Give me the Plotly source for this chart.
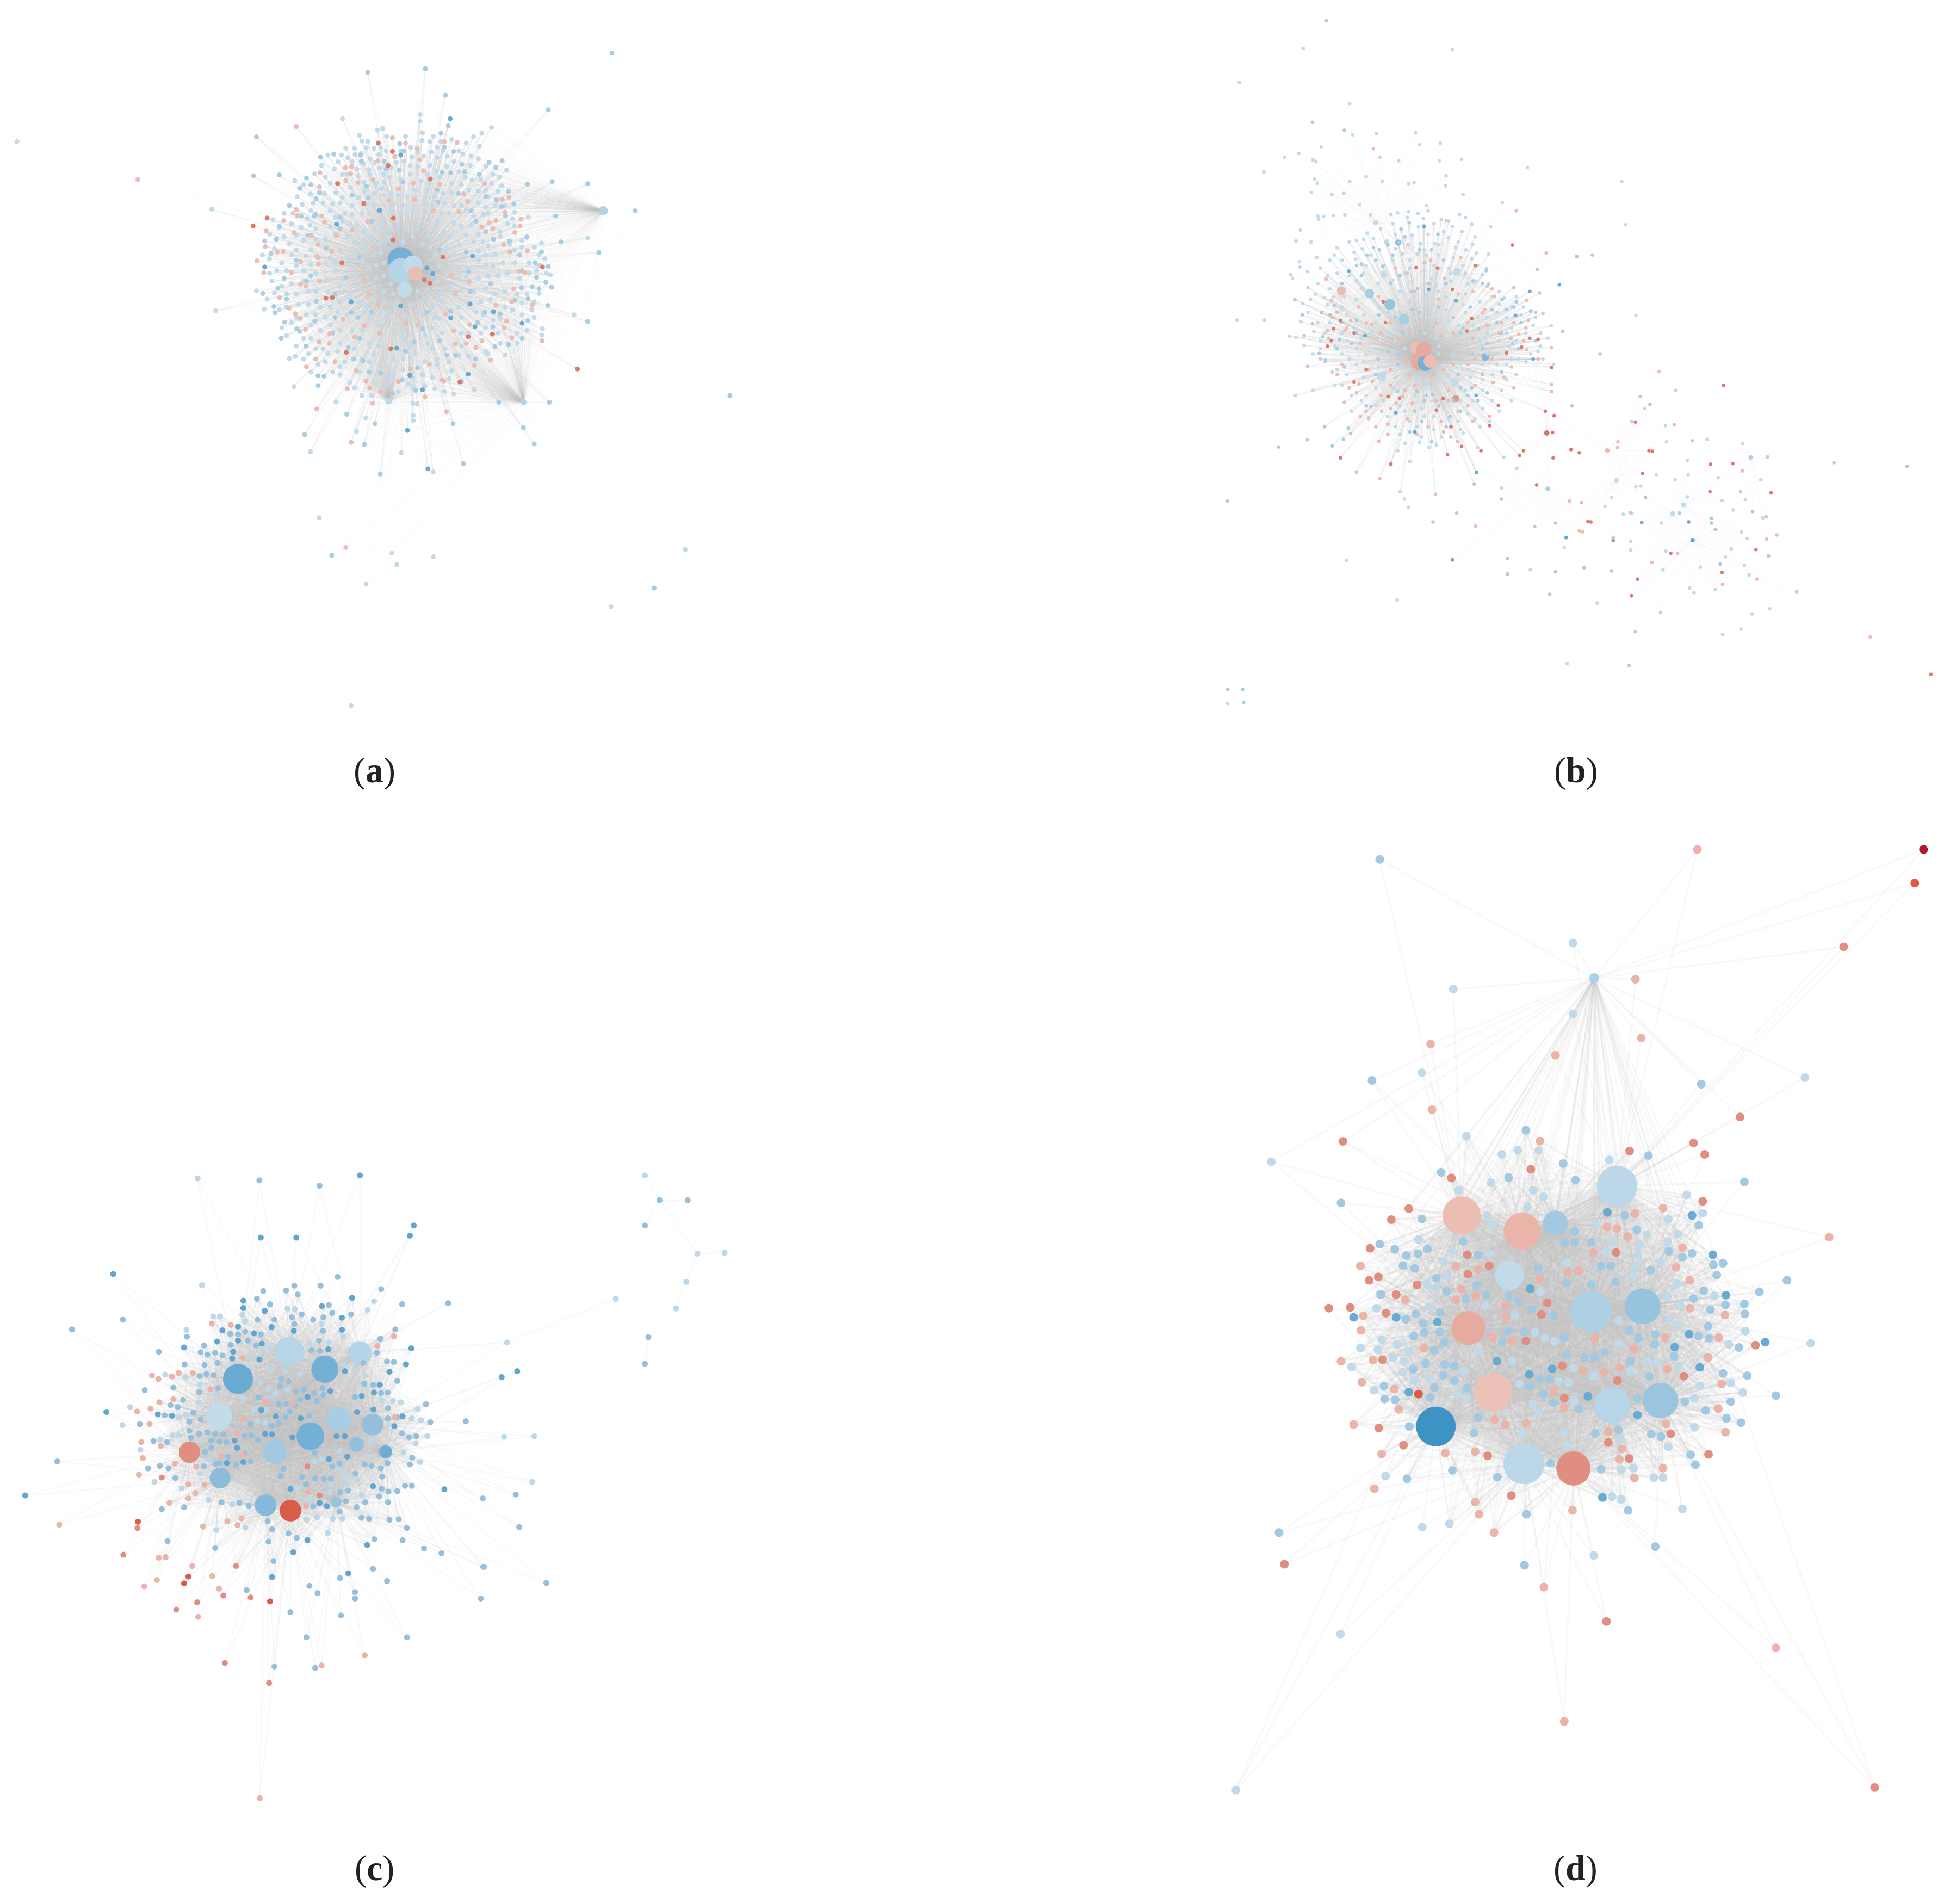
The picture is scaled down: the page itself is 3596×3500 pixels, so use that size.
import math
import plotly.graph_objects as go

# panel a
a_hub_x = [825, 825, 850, 855, 833, 1242, 800, 1078]
a_hub_y = [500, 520, 510, 525, 557, 405, 771, 773]
a_hub_size = [48, 46, 36, 26, 28, 17, 12, 11]
a_hub_tone = [3.5, 1.5, 1, -1, 1, 1.6, 1.2, 1.5]

a_light = [(35,272),(436,402),(444,597),(723,1356),(754,1122),(817,1085),(807,1063),(892,1070),(657,995),(639,868),(826,870),(892,907),
(734,829),(753,803),(1411,1056),(1258,1166),(977,749),(1210,457),(865,220),(865,233),(705,228),(1182,605),(605,743),(692,772),(851,798),(851,808),
(777,250),(788,247),(740,260),(745,271),(870,255),(869,270),(885,272),(960,275),(992,256),(1012,245),(730,285),(754,284),(770,285),(784,284),(846,283),
(900,283),(945,290),(987,281),(703,298),(716,303),(731,297),(762,305),(780,297),(848,302),(872,300),(900,303),(921,300),(953,296),(696,311),(688,325),
(715,335),(748,315),(760,326),(782,323),(816,312),(845,318),(885,318),(945,330),(968,318),(1000,320),(1043,327),(648,334),(680,352),(696,352),(737,338),
(762,335),(775,352),(802,340),(845,335),(867,348),(905,340),(930,352),(972,346),(1033,357),(639,373),(691,370),(722,360),(750,368),(785,362),(820,375),
(838,378),(880,365),(912,372),(985,367),(1012,352),(607,347),(665,390),(700,390),(725,395),(770,395),(790,375),(830,395),(875,390),(915,390),(950,395),
(985,390),(1020,395),(1060,408),(595,395),(622,393),(640,405),(680,405),(710,410),(745,410),(790,420),(825,410),(860,420),(900,425),(925,410),(975,415),
(1005,410),(1088,417),(562,422),(575,438),(620,437),(650,440),(705,425),(735,432),(770,440),(800,440),(840,440),(880,440),(915,445),(950,435),(985,450),
(1045,430),(570,458),(595,468),(625,462),(670,460),(715,455),(750,460),(785,465),(830,465),(870,470),(905,458),(945,470),(975,465),(1005,472),(1030,455),
(1085,455),(1115,467),(555,497),(580,505),(610,480),(640,480),(700,480),(735,485),(770,490),(895,490),(935,490),(1000,490),(1060,480),(1100,475),(1122,497),
(590,520),(625,520),(670,505),(725,510),(760,515),(790,505),(930,510),(960,515),(1000,510),(1035,505),(1090,505),(1133,528),(560,540),(600,545),(650,525),
(690,520),(735,530),(775,535),(805,545),(900,540),(945,535),(985,535),(1025,530),(1070,535),(1105,520),(528,559),(565,563),(610,565),(650,560),(700,550),
(740,555),(790,560),(860,560),(905,565),(950,555),(1000,555),(1040,560),(1085,565),(1110,564),(544,594),(590,590),(635,585),(680,590),(755,590),(790,582),
(850,585),(890,590),(945,590),(990,580),(1040,590),(1075,582),(610,610),(650,605),(695,600),(760,610),(800,605),(870,605),(905,612),(995,605),(1030,612),
(1117,632),(1116,644),(580,630),(640,625),(680,625),(725,635),(800,625),(890,630),(950,640),(1000,630),(1065,640),(640,650),(665,670),(700,660),(760,660),
(830,650),(880,660),(915,670),(1000,675),(1040,682),(1065,660),(596,689),(608,685),(635,680),(675,680),(745,690),(770,680),(810,690),(855,680),(900,690),
(945,682),(655,700),(700,705),(720,735),(780,715),(830,710),(870,720),(900,700),(930,712),(685,715),(795,740),(820,752),(850,745),(895,747),(934,757),(850,775),(859,776)]

a_light_more = [(757,272),(796,262),(825,290),(835,262),(892,262),(908,272),(930,268),(975,263),(712,285),(744,295),(795,290),(860,293),(888,292),(912,290),(970,300),(675,298),(725,310),(772,312),(805,322),(832,310),
(860,320),(898,328),(935,310),(985,305),(1015,335),(662,318),(705,335),(735,325),(790,335),(825,345),(880,335),(920,320),(958,340),(990,345),(670,340),(750,350),(790,350),(885,352),(950,355),(1000,365),(1028,340),
(625,355),(668,372),(705,380),(738,380),(770,372),(805,372),(855,365),(895,378),(930,370),(965,365),(1005,378),(1025,368),(612,378),(645,390),(685,392),(755,392),(810,392),(850,402),(890,395),(935,395),(1000,398),
(1040,395),(603,410),(632,420),(690,418),(725,412),(760,410),(805,405),(875,410),(910,410),(960,402),(995,412),(1055,420),(585,410),(600,430),(638,433),(680,435),(720,430),(750,445),(785,440),(820,432),(860,440),
(895,440),(935,428),(970,433),(1030,445),(1060,435),(555,450),(585,455),(610,452),(650,460),(690,450),(730,465),(765,455),(800,455),(850,455),(885,455),(925,455),(960,452),(995,465),(1050,470),(1075,462),(540,490),
(565,478),(600,490),(630,492),(680,495),(715,495),(755,480),(785,485),(885,475),(920,478),(955,495),(985,482),(1020,490),(1075,475),(1110,490),(570,520),(610,510),(640,508),(690,505),(745,500),(775,510),(905,510),
(945,515),(985,500),(1015,512),(1060,505),(1110,510),(555,525),(580,550),(625,540),(670,540),(710,535),(755,535),(790,530),(920,525),(960,532),(1005,530),(1045,525),(1090,525),(1125,525),(550,575),(590,565),(635,560),
(675,560),(720,565),(770,550),(810,565),(880,555),(925,550),(975,560),(1020,565),(1065,565),(1100,580),(575,595),(615,585),(660,590),(700,580),(740,580),(770,575),(815,585),(870,578),(910,580),(965,585),(1010,575),(1055,595),
(1095,595),(600,620),(630,605),(670,610),(715,605),(750,600),(785,600),(835,605),(895,610),(950,610),(980,600),(1015,615),(1075,605),(1100,610),(590,645),(625,650),(660,635),(700,635),(745,635),(780,625),(825,635),(875,645),
(910,640),(965,640),(1025,640),(1085,635),(610,665),(650,670),(695,675),(730,670),(780,665),(845,665),(890,670),(950,665),(990,640),(1030,660),(625,690),(670,695),(710,695),(760,695),(795,705),(830,690),(875,695),(925,695),
(965,685),(1005,680),(640,715),(700,720),(740,715),(810,720),(850,725),(890,725),(925,728),(730,745),(770,735),(800,725),(840,738),(875,742),(915,752),(745,760),(765,760)]

a_mid = [(757,139),(876,132),(917,183),(1260,102),(1129,211),(528,263),(522,338),(575,336),(1086,354),(1137,349),(1210,353),(1308,405),(1144,415),(1155,465),
(1233,485),(1210,618),(1131,773),(1027,773),(1078,822),(1100,853),(954,891),(783,911),(683,1067),(1347,1130),(1503,760),(933,814),(772,814),(627,835),(750,854),(714,796),(655,741),
(908,256),(923,242),(742,298),(791,310),(823,276),(915,283),(934,291),(951,316),(1007,312),(1021,322),(1034,309),(660,302),(687,296),(744,310),(822,327),(910,331),(928,332),(957,330),(987,335),
(631,342),(617,362),(658,370),(725,375),(758,380),(902,388),(944,372),(1022,384),(1047,368),(1058,392),(596,395),(651,382),(650,412),(700,417),(780,405),(1033,397),(1041,415),(620,415),
(647,415),(575,435),(634,452),(672,477),(800,470),(1016,460),(1085,456),(569,460),(545,463),(558,487),(1000,445),(1049,463),(1115,484),(655,495),(740,495),(960,484),(1102,505),(1129,512),
(585,535),(640,530),(712,533),(965,522),(1105,533),(1124,542),(541,564),(572,554),(631,540),(1074,553),(1096,551),(1136,552),(564,589),(651,579),(723,600),(765,600),(968,560),(1060,577),
(1087,574),(1128,587),(566,601),(586,619),(611,632),(648,617),(737,610),(870,632),(928,598),(998,600),(1030,603),(1087,616),(579,650),(617,637),(685,640),(853,657),(984,620),(1047,662),
(1075,650),(630,665),(717,668),(920,682),(938,683),(979,690),(1019,666),(655,722),(667,723),(728,690),(760,715),(828,730),(860,707),(950,733),(808,756),(856,750),(784,717),(747,693),
(832,290),(795,325),(755,358),(1000,378),(700,440),(1070,490),(610,500),(690,565),(1010,545),(905,480),(880,600),(740,650),(835,675),(905,655),(1015,628),(690,610),(590,575),(1110,555),(1075,520),(765,425),
(980,425),(640,355),(830,350),(900,365),(970,405)]

a_pink = [(808,265),(835,275),(859,285),(915,272),(941,274),(813,301),(778,309),(864,307),(724,320),(872,328),(711,322),(722,334),(659,332),(768,345),(737,351),(712,347),(851,352),(905,354),
(998,353),(658,359),(820,363),(955,373),(1048,379),(1034,383),(801,385),(854,384),(893,405),(963,387),(945,407),(1040,408),(584,424),(610,403),(612,414),(662,415),(668,427),(757,426),
(725,442),(1073,421),(1021,424),(1007,428),(1015,439),(992,436),(1071,434),(605,447),(548,444),(641,453),(693,453),(1060,447),(655,470),(583,483),(571,484),(546,474),(683,483),(1050,484),
(1037,470),(1086,482),(653,493),(529,501),(656,507),(619,503),(543,524),(600,524),(1069,521),(1081,524),(750,537),(630,550),(658,540),(619,546),(929,528),(966,541),(1058,555),(760,566),
(576,572),(938,563),(1096,586),(595,592),(608,603),(1054,580),(778,584),(918,603),(1021,587),(618,612),(706,613),(1043,617),(1038,630),(629,633),(750,626),(835,621),(860,625),(934,636),
(967,624),(679,641),(1054,649),(1116,655),(730,648),(781,640),(657,657),(678,660),(938,661),(960,660),(992,655),(650,690),(690,695),(980,668),(977,702),(1010,692),(631,705),(733,712),
(845,709),(884,700),(914,732),(820,733),(715,747),(754,732),(761,745),(783,753),(910,730),(875,763),(284,345),(610,243),(652,786),(712,1052),(723,850),(767,775),(919,791)]

a_salmon = [(695,353),(886,344),(779,275),(808,291),(799,318),(749,391),(810,419),(809,461),(704,505),(912,494),(874,538),(885,544),(1117,513),(964,647),(1014,642),(947,734),(713,677),(805,670),
(671,573),(684,572),(1189,709),(521,434),(550,419)]

a_deep = [(825,298),(693,431),(782,404),(927,228),(973,492),(1016,599),(1075,621),(978,628),(844,721),(964,719),(870,749),(928,611),(968,584),(545,513),(891,526),(879,515),(817,669),(723,580),(825,588),(839,827),(881,901)]

# panel b
b_hub_x = [470, 299, 357, 399, 428, 386, 537, 416, 370, 596, 382, 532, 535, 455, 460, 468, 472, 482, 723, 725, 867, 848, 1005, 983, 1024, 1144]
b_hub_y = [690, 559, 564, 585, 613, 528, 522, 466, 428, 686, 724, 734, 766, 668, 695, 672, 698, 694, 832, 939, 923, 866, 970, 987, 1038, 879]
b_hub_size = [22, 17, 17, 20, 20, 13, 14, 11, 9, 14, 17, 14, 13, 24, 32, 28, 28, 24, 10, 8, 8, 9, 9, 9, 8, 8]
b_hub_tone = [1.5, -1, 2, 2.5, 2, 1, 1, 3, 1, 3, 1, 1, -1.8, -1, -1.4, -1.4, 3.5, -1, -2.5, 2, 1, -1, 1, 1, 4, 2]

b_light = [(220,93),(88,158),(316,199),(528,95),(322,259),(371,257),(452,255),(503,275),(460,278),(257,282),(181,302),(211,295),(240,307),(246,310),(378,302),(417,309),(501,309),(547,306),(139,330),(243,344),
(249,352),(316,349),(350,339),(383,348),(438,353),(449,351),(515,338),(514,357),(550,374),(237,370),(279,374),(304,372),(337,393),(474,395),(631,389),(878,349),(886,432),(683,322),(250,415),
(262,416),(282,414),(306,413),(359,413),(401,412),(415,409),(438,407),(457,410),(478,405),(505,422),(515,424),(543,412),(555,418),(252,421),(568,431),(607,436),(422,440),(458,436),(214,442),
(236,465),(205,463),(290,476),(315,465),(342,478),(393,463),(437,470),(462,468),(492,468),(520,457),(556,480),(578,486),(603,488),(284,490),(248,495),(212,503),(213,513),(229,522),(275,500),
(328,498),(360,490),(388,510),(440,500),(475,490),(500,490),(530,495),(568,497),(598,516),(590,528),(194,528),(198,535),(230,553),(245,565),(270,530),(315,530),(345,525),(430,525),(470,520),
(495,525),(555,525),(575,540),(235,575),(218,583),(263,572),(283,570),(340,555),(420,560),(500,560),(555,565),(610,570),(635,573),(660,570),(83,615),(140,615),(215,618),(242,637),(258,600),(310,605),
(370,620),(450,610),(490,620),(520,615),(580,610),(620,600),(670,605),(690,597),(732,626),(192,646),(205,648),(255,655),(300,640),(340,650),(410,655),(520,650),(600,640),(640,640),(680,640),(222,664),
(240,680),(300,680),(350,680),(400,690),(430,670),(530,680),(620,680),(670,670),(690,680),(737,700),(240,750),(204,760),(290,710),(330,700),(560,710),(620,700),(650,690),(680,695),(300,740),(350,760),
(430,720),(500,730),(590,730),(640,730),(320,790),(370,780),(450,760),(490,770),(570,770),(610,770),(440,810),(490,800),(540,810),(575,805),(605,810),(460,850),(495,855),(430,852),(415,866),(440,887),
(525,820),(550,832),(580,860),(634,879),(661,900),(630,938),(420,945),(437,975),(429,959),(414,1153),(309,1077),(759,1052),(689,1095),(827,1159),(765,1275),(1124,1209),(1086,1219),(1147,1180),(1183,1170),
(907,606),(989,750),(925,785),(898,810),(968,818),(970,849),(1054,844),(1127,852),(1013,885),(988,922),(1015,912),(1077,918),(949,912),(1165,922),(907,935),(917,934),(856,956),(843,973),(1013,955),(1085,962),
(1108,980),(1133,960),(1169,995),(899,987),(881,988),(960,1005),(1072,1018),(1125,1022),(1137,1035),(1104,1055),(1092,1070),(969,1059),(896,1057),(963,1095),(1040,1090),(1131,1086),(1141,1105),(1018,1130),
(1027,1139),(1071,1133),(64,1352),(896,1040)]

b_light_more = [(352,448),(380,440),(405,430),(435,418),(468,420),(490,430),(528,435),(548,445),(575,455),(330,462),(365,458),(410,450),(445,452),(478,450),(510,445),(540,465),(570,470),(300,500),(350,510),(405,500),(425,488),
(455,488),(490,510),(520,515),(550,510),(580,510),(255,515),(290,525),(330,540),(375,545),(405,538),(445,540),(485,535),(525,540),(560,545),(600,550),(625,560),(250,545),(275,555),(305,570),(330,575),(375,590),(440,580),(475,565),
(515,570),(550,585),(585,580),(625,585),(650,590),(675,590),(230,600),(270,585),(300,590),(345,605),(395,600),(420,600),(480,590),(515,595),(555,600),(600,610),(640,610),(700,610),(250,620),(275,620),(325,630),(360,640),(395,640),
(435,625),(470,640),(540,625),(570,625),(605,625),(650,630),(695,625),(710,640),(265,640),(310,655),(385,660),(415,630),(495,650),(545,660),(585,655),(625,655),(660,655),(710,665),(725,650),(255,670),(285,665),(330,670),(370,670),(405,675),
(500,680),(565,670),(600,680),(645,665),(705,675),(265,695),(315,690),(345,695),(375,705),(505,705),(545,700),(590,700),(640,700),(665,690),(715,690),(280,715),(310,720),(345,725),(410,725),(460,725),(520,720),(565,725),(610,720),(660,720),(285,740),
(320,760),(370,745),(405,745),(470,740),(555,750),(590,750),(630,750),(650,770),(340,770),(385,770),(420,780),(465,785),(510,785),(545,770),(590,785),(625,790),(355,805),(395,800),(430,790),(470,800),(520,805),(560,795),(410,820),(455,820),
(490,825),(545,825),(585,820),(420,835),(465,840),(505,840),(480,860),(390,465),(410,478),(470,480),(500,470),(535,475),(440,515),(525,525),(345,460),(325,485),(470,545),(495,548),(480,610),(445,640),(500,665),(515,635),(390,705),(420,705)]

b_mid = [(268,40),(239,235),(305,250),(417,466),(469,434),(498,450),(439,428),(422,440),(365,476),(377,480),(352,490),(405,490),(330,510),(314,521),(341,508),(384,512),(400,544),(420,530),(456,555),(480,545),
(534,578),(570,540),(598,520),(631,575),(660,580),(690,598),(218,605),(258,601),(284,587),(300,620),(345,645),(376,605),(425,640),(460,600),(500,590),(550,630),(582,632),(620,620),(660,606),(670,620),
(695,690),(653,661),(260,647),(272,650),(295,652),(320,660),(375,690),(415,680),(520,690),(570,680),(600,660),(648,650),(266,692),(253,679),(415,700),(545,745),(568,745),(600,755),(415,752),(455,752),
(475,760),(487,758),(360,781),(350,780),(412,794),(440,830),(451,830),(485,849),(545,790),(523,800),(313,823),(318,833),(303,844),(264,820),(280,857),(169,859),(578,908),(573,930),(629,959),(642,1103),
(741,1099),(729,1142),(800,1091),(857,1097),(698,1012),(763,1033),(785,493),(749,547),(655,590),(927,956),(919,1004),(1016,1003),(1063,1005),(1063,996),(1071,1018),(1081,1084),(1148,983),(1181,1068),
(1467,896),(64,963),(64,1325),(95,1325),(97,1350),(997,986),(936,777),(395,470),(430,455),(460,480),(485,480),(510,500),(370,500),(340,530),(300,545),(360,570),(445,560),(515,545),(590,545),(610,595),(640,595),(275,605),(330,615),
(410,610),(445,595),(530,610),(565,590),(290,670),(330,640),(395,675),(545,640),(590,670),(630,640),(665,670),(700,655),(305,705),(370,720),(540,720),(630,715),(470,770),(500,780),(530,770),(560,760),(465,810),(515,820),(450,790),(580,770)]

b_pink = [(365,286),(660,405),(722,486),(817,490),(703,518),(652,471),(520,425),(483,500),(470,505),(500,515),(545,495),(575,512),(410,515),(435,525),(512,535),(603,546),(655,553),(681,577),(708,563),(615,570),
(203,576),(267,536),(278,577),(335,590),(375,570),(450,560),(500,575),(540,565),(595,595),(630,620),(715,602),(756,637),(239,622),(222,645),(280,610),(318,616),(362,623),(400,620),(440,640),(505,645),(570,650),
(665,642),(705,690),(270,635),(306,635),(338,660),(385,660),(430,690),(440,720),(510,710),(560,700),(640,680),(650,705),(682,672),(733,668),(229,704),(290,720),(315,745),(335,738),(363,733),(400,740),(520,750),
(590,720),(612,735),(655,745),(305,773),(338,800),(355,803),(382,790),(412,775),(425,762),(495,770),(560,780),(605,800),(229,845),(376,848),(478,820),(510,830),(539,848),(330,907),(378,920),(401,891),(493,950),(488,1003),
(537,986),(576,1011),(642,1073),(741,1005),(770,963),(795,966),(790,1020),(797,1022),(898,1145),(958,1177),(893,1279),(1391,1224),(1316,889),(1239,1137),(1198,1028),(1176,993),(955,714),(916,762),(986,816),
(833,680),(739,798),(733,739),(733,752),(775,780),(870,849),(869,860),(1024,847),(1179,878),(1127,905),(1123,945),(1086,1123),(993,1063),(940,1081),(895,985),(860,1033),(1177,1036),(1157,1113),(906,1214),
(290,600),(310,630),(350,620),(380,640),(415,650),(450,660),(495,620),(530,640),(560,620),(600,625),(625,640),(655,620),(685,615),(255,690),(300,700),(355,710),(400,710),(450,740),(490,720),(530,700),(575,690),(610,690),(635,725),(330,755),
(380,760),(430,750),(520,770),(575,740),(350,790),(400,785),(445,775),(540,790),(570,810),(435,805),(455,835),(505,810),(525,840),(395,815),(370,820),(395,835),(590,600),(610,555),(570,560),(650,650),(675,655),(680,630),(700,600)]

b_salmon = [(652,471),(575,510),(453,514),(497,515),(528,556),(385,580),(568,612),(558,636),(297,616),(283,632),(325,640),(270,665),(278,655),(390,620),(350,710),(325,734),(396,762),(419,765),(509,766),(623,779),(605,818),(525,820),
(495,788),(587,866),(518,874),(547,858),(297,880),(401,892),(675,866),(667,875),(736,880),(773,864),(790,870),(720,790),(738,799),(735,831),(1088,740),(906,811),(934,866),(941,867),(921,910),(1060,945),(1186,947),
(1107,891),(1061,892),(808,1002),(814,1003),(979,1063),(1155,1056),(1085,1100),(910,1113),(705,652),(688,650),(671,667),(640,678),(733,706),(1516,1296),(528,1076),(898,1145),(702,932)]

b_deep = [(470,436),(479,556),(536,578),(314,521),(450,830),(411,793),(577,760),(688,560),(658,606),(348,645),(528,1076),(860,1039),(919,1004),(749,547),(578,908),(763,1033),(1016,1003),(695,690)]

# panel c
c_hub_x = [596, 669, 741, 490, 451, 698, 767, 639, 566, 390, 734, 794, 453, 547, 598, 692]
c_hub_y = [431, 467, 434, 487, 563, 569, 581, 605, 637, 638, 622, 637, 691, 747, 758, 741]
c_hub_size = [55, 50, 44, 55, 49, 46, 40, 51, 45, 39, 27, 24, 38, 40, 40, 20]
c_hub_tone = [1.4, 3.5, 1.5, 3.8, 1, 2, 2.6, 3.5, 2.2, -2, 2.6, 3.6, 2.8, 3, -3, 2.5]

c_light = [(407,74),(1328,68),(1268,322),(1044,412),(1100,605),(1038,606),(1096,699),(416,294),(384,386),(439,358),(453,358),(382,483),(340,478),(268,545),(252,582),(289,633),(318,699),(374,712),(429,736),
(478,745),(445,798),(505,793),(554,420),(540,427),(515,439),(537,494),(558,468),(443,521),(499,527),(411,499),(383,560),(368,566),(355,603),(368,603),(330,612),(409,535),(412,682),(430,653),
(499,355),(505,368),(592,342),(607,343),(662,374),(637,413),(677,412),(708,400),(708,456),(735,469),(753,481),(618,478),(588,472),(567,517),(553,507),(592,509),(735,525),(786,531),(809,532),(825,535),(860,549),
(848,568),(867,572),(880,605),(831,638),(856,620),(865,658),(763,615),(699,635),(662,652),(647,657),(700,675),(712,690),(735,696),(682,705),(715,705),(745,726),(680,720),(637,734),(612,711),(635,720),(653,772),
(705,775),(685,775),(631,777),(675,804),(546,578),(530,574),(548,551),(524,550),(770,327),(757,345),(1436,229),(1492,227),(1413,287),(1392,342),(998,874)]

c_mid = [(534,78),(658,89),(1358,119),(1416,119),(1328,171),(695,277),(606,295),(589,305),(613,313),(660,295),(785,302),(529,322),(556,333),(542,306),(677,335),(684,351),(828,333),(923,331),(723,354),(645,365),(666,360),
(601,360),(565,365),(530,365),(621,354),(474,394),(490,395),(505,390),(537,395),(510,408),(527,418),(475,417),(458,439),(443,433),(427,437),(413,432),(420,418),(448,454),(421,458),(411,481),(425,477),(440,479),
(385,400),(327,431),(380,457),(298,510),(357,505),(410,514),(449,506),(377,530),(351,541),(366,545),(398,556),(413,570),(390,575),(288,580),(339,562),(390,594),(410,600),(344,617),(316,615),(393,608),(435,614),
(452,616),(466,617),(503,604),(518,603),(531,613),(460,601),(422,637),(435,629),(470,647),(453,660),(420,667),(486,664),(516,657),(329,666),(305,671),(347,671),(361,691),(456,741),(493,742),(512,748),(551,780),
(560,797),(594,805),(611,814),(553,822),(345,821),(333,755),(379,751),(443,835),(563,862),(508,922),(598,967),(631,1019),(637,913),(654,928),(565,1079),(649,1082),(702,974),(731,926),(731,939),(768,878),(700,897),
(797,903),(838,1019),(990,939),(1125,907),(995,874),(909,846),(873,836),(829,819),(771,817),(838,794),(821,776),(802,777),(760,775),(744,773),(752,741),(734,751),(712,739),(699,760),(645,749),(732,682),(751,663),
(765,666),(784,671),(787,688),(798,660),(844,663),(849,649),(828,599),(842,607),(857,605),(799,568),(818,566),(799,547),(785,516),(798,515),(768,499),(750,497),(731,524),(748,454),(783,404),(776,433),(797,451),(811,452),
(818,491),(877,539),(886,576),(959,574),(994,733),(1062,725),(1069,792),(848,707),(834,707),(800,719),(786,713),(781,729),(799,741),(818,718),(717,717),(700,721),(681,692),(667,693),(649,692),(699,661),(684,667),(678,652),
(648,639),(630,704),(622,689),(578,687),(584,672),(1335,401),(1328,456),(148,385),(253,365),(118,657),(814,385),(784,404),(641,428),(659,429),(657,408),(665,388),(606,374),(594,492),(580,487),(576,501),
(610,513),(625,509),(647,516),(664,506),(666,520),(634,524),(618,530),(652,532),(607,541),(589,538),(574,539),(597,554),(588,566),(560,583),(574,578),(637,563),(516,580),(532,525),(504,640),(445,662),(443,600),(427,597)]

c_deep = [(741,68),(537,196),(610,196),(852,171),(844,192),(233,271),(501,326),(501,341),(545,347),(704,361),(559,380),(605,388),(490,379),(458,387),(704,386),(523,393),(447,410),(490,408),(539,414),(480,431),
(478,445),(534,447),(676,426),(725,320),(663,337),(847,424),(836,457),(802,472),(710,471),(782,499),(770,515),(745,522),(680,512),(633,524),(619,568),(568,564),(538,551),(560,601),(546,600),(602,607),(693,605),(710,605),
(735,555),(769,550),(812,584),(829,564),(915,714),(1033,483),(1065,471),(483,614),(467,660),(501,658),(488,629),(325,560),(354,563),(219,555),(52,727),(717,887),(756,829),(633,819),(604,844),(560,895),
(768,708),(673,749),(658,742),(677,652),(715,647),(598,713),(379,422)]

c_pink = [(436,373),(475,376),(500,443),(313,480),(326,487),(354,482),(368,475),(397,475),(433,508),(328,535),(357,529),(310,548),(282,554),(308,580),(291,617),(331,625),(294,650),(360,661),(404,668),(421,705),(388,704),(402,722),(388,733),(349,742),
(468,780),(497,774),(489,788),(418,791),(545,534),(603,537),(501,569),(489,600),(456,646),(500,644),(634,720),(630,748),(777,419),(811,399),(813,566),(751,1056),(451,919),(396,872),(437,893),(323,901),(341,854),(327,855),(297,914),(122,787),(286,684),(408,977),
(535,1350),(662,1077)]

c_salmon = [(633,667),(658,727),(333,690),(486,872),(460,933),(516,937),(406,947),(363,962),(463,1072),(554,1113),(254,849),(283,794)]
c_red = [(284,781),(388,894),(379,908),(556,945)]
# the small separate group at the upper right, chained node to node
c_chain = [((1328,68),(1358,119)),((1358,119),(1416,119)),((1358,119),(1328,171)),((1358,119),(1436,229)),((1436,229),(1492,227)),((1436,229),(1413,287)),((1413,287),(1392,342)),((1335,401),(1328,456)),((1268,322),(1044,412))]
c_apart = [(1328,68),(1358,119),(1416,119),(1328,171),(1436,229),(1492,227),(1413,287),(1392,342),(1335,401),(1328,456),(1268,322)]

# panel d
d_hub_x = [868, 547, 672, 741, 646, 815, 921, 561, 612, 494, 858, 958, 676, 778, 821]
d_hub_y = [257, 334, 375, 354, 491, 586, 572, 629, 797, 887, 832, 819, 984, 997, -288]
d_hub_size = [75, 70, 68, 46, 54, 76, 66, 62, 71, 73, 67, 65, 76, 63, 18]
d_hub_tone = [1.3, -1, -1.2, 2.2, 1, 1.8, 2.5, -1.4, -0.9, 5, 1.4, 2.4, 1.3, -2, 1.8]

d_light = [(154,193),(557,126),(630,174),(663,163),(706,164),(852,188),(608,248),(695,268),(716,285),(541,268),(683,311),(458,397),(600,334),(609,361),(822,358),(930,385),(974,344),(993,383),(973,403),(915,411),(856,405),
(910,438),(846,431),(908,465),(958,457),(902,492),(992,513),(972,546),(1069,545),(1012,280),(998,568),(976,606),(996,622),(910,655),(871,610),(872,670),(931,715),(950,718),(996,728),(1099,672),(1133,637),(1268,669),(1039,781),(1128,798),(1103,773),
(1028,813),(1028,889),(974,940),(963,1021),(944,1021),(902,996),(877,1000),(875,921),(877,1078),(858,1071),(764,937),(759,900),(705,852),(695,827),(779,818),(768,772),(748,768),(778,733),(819,755),(895,742),(666,775),(652,715),(739,664),(719,655),
(699,640),(657,595),(596,570),(580,688),(482,574),(371,577),(382,659),(414,672),(374,686),(338,681),(437,690),(405,707),(427,716),(426,745),(448,767),(320,731),(366,792),(480,760),(510,748),(552,742),(558,811),(538,802),(390,1017),(466,1151),(522,1142),
(820,1225),(672,906),(710,535),(603,433),(528,427),(510,454),(515,493),(475,514),(494,524),(378,541),(766,458),(1003,1103),(297,1431),(777,-380),(530,-259),(777,-194),(465,-40),(1256,-27),(81,1840),(1045,328)]

d_mid = [(680,111),(757,198),(933,177),(505,221),(644,235),(782,241),(1131,246),(298,301),(465,343),(884,334),(1037,360),(909,371),(780,376),(760,404),(781,404),(815,404),(550,402),(378,409),(409,423),(477,422),(433,439),
(457,434),(581,438),(426,465),(450,473),(705,473),(835,467),(855,466),(865,508),(815,515),(764,511),(938,477),(975,428),(1003,443),(1023,433),(1067,463),(1087,459),(1074,490),(1026,552),(1047,531),(1092,568),(1131,566),(1132,592),
(1162,534),(1219,504),(1061,581),(1056,624),(1036,650),(1058,656),(1120,680),(986,703),(946,671),(947,646),(893,635),(912,655),(895,717),(843,692),(800,707),(821,705),(764,700),(759,654),(737,596),(692,581),(665,559),(645,546),(599,543),
(578,517),(556,553),(516,533),(495,498),(381,541),(453,592),(503,588),(468,617),(502,639),(470,641),(448,650),(511,667),(490,687),(432,606),(676,639),(644,637),(631,665),(473,722),(512,724),(532,728),(447,737),(509,753),(532,767),
(491,785),(558,786),(482,811),(388,815),(410,817),(387,781),(581,864),(573,904),(439,887),(528,1002),(434,1024),(621,1020),(731,983),(835,999),(823,905),(871,896),(939,907),(959,913),(1020,961),(1030,987),(910,814),(1008,822),(1051,845),(1094,866),
(1124,877),(1103,822),(1196,806),(1137,754),(1087,748),(935,756),(789,842),(737,825),(716,802),(708,762),(728,762),(687,781),(170,1165),(677,1251),(681,1117),(891,1107),(947,1202),(378,-599),(362,-20),(1042,-10)]

d_pink = [(486,57),(709,139),(1306,391),(963,315),(905,329),(847,364),(868,368),(890,390),(819,431),(766,484),(789,478),(708,500),(1003,418),(990,470),(1018,504),(1019,577),(1091,595),(1078,654),(967,653),(903,684),(873,733),(841,745),(797,740),(1056,706),
(972,737),(1084,775),(1077,840),(969,880),(1092,902),(963,996),(904,1022),(873,973),(878,946),(850,901),(759,838),(738,795),(822,657),(652,662),(611,655),(638,601),(713,594),(637,570),(576,545),(546,527),(536,555),(581,475),(535,467),(431,555),
(344,597),(338,466),(339,635),(364,713),(298,716),(469,682),(615,869),(637,882),(681,879),(575,953),(513,957),(575,1085),(583,1117),(614,1165),(776,1107),(717,1308),(1196,1467),(367,1050),(324,882),(382,959),(417,842),(408,789),(341,771),(906,-285),(918,-131),(483,-115),
(741,-86),(1034,-625),(759,1660)]

d_salmon = [(302,140),(1122,76),(1026,144),(1049,174),(894,165),(690,213),(526,236),(438,316),(402,345),(358,420),(559,437),(604,466),(560,488),(375,495),(356,504),(455,516),(412,541),(724,563),(712,594),(273,577),(317,575),(391,590),(680,663),
(866,431),(755,728),(869,767),(1006,755),(759,813),(384,712),(376,891),(427,936),(850,929),(893,971),(979,906),(1057,960),(1154,674),(650,1068),(181,1248),(846,1398),(1045,297),(601,964),(1336,-370),(1400,1833)]

d_deep = [(848,326),(1023,334),(689,526),(620,716),(734,736),(1039,732),(838,1073),(1017,645),(987,679),(1093,543),(1174,666),(497,613),(412,601),(324,601),(438,797),(910,857),(808,808),(687,751),(1066,437)]
d_red = [(458,802),(1483,-537)]
d_darkred = [(1501,-625)]

labels = ["(<b>a</b>)", "(<b>b</b>)", "(<b>c</b>)", "(<b>d</b>)"]
label_x = [688, 2897, 688, 2896]
label_y = [1416, 1416, 3434, 3434]

tone_scale = [
    [0 / 9, "#b2182b"], [1 / 9, "#d85c48"], [2 / 9, "#e08e80"], [3 / 9, "#ecbdb3"],
    [4 / 9, "#dfe3e6"], [5 / 9, "#c2dbea"], [6 / 9, "#a9cde3"], [7 / 9, "#86b8d9"],
    [8 / 9, "#62a6d0"], [9 / 9, "#3d94c4"],
]

# crop origin and crop units per reference pixel for every panel
# core: hubs every node in reach links to, side: nearest side_k of these hubs within side_reach
panels = [
    dict(x0=0, y0=0, sx=1400 / 1568, sy=1500 / 1568, size=9, core=[0, 1, 2, 3, 4], reach=420, alpha=0.11, width=1.3,
         side=[5, 6, 7], side_k=2, side_reach=560, side_alpha=0.06, every=0,
         hx=a_hub_x, hy=a_hub_y, hs=a_hub_size, ht=a_hub_tone, chain=[], apart=[],
         groups=[(a_light, 1), (a_light_more, 1), (a_mid, 2), (a_pink, -1), (a_salmon, -2.4), (a_deep, 3.8)]),
    dict(x0=2200, y0=0, sx=1396 / 1568, sy=1500 / 1568, size=6.5, core=[0, 13, 14, 15, 16, 17], reach=260, alpha=0.11, width=1.1,
         side=[1, 2, 3, 4, 5, 6, 7, 8, 9, 10, 11, 12, 18, 19, 20, 21, 22, 23, 24, 25], side_k=2, side_reach=230, side_alpha=0.06, every=0,
         hx=b_hub_x, hy=b_hub_y, hs=b_hub_size, ht=b_hub_tone, chain=[], apart=[(64,1325),(95,1325),(64,1352),(97,1350)],
         groups=[(b_light, 1), (b_light_more, 1), (b_mid, 2), (b_pink, -1), (b_salmon, -2.4), (b_deep, 3.8)]),
    dict(x0=0, y0=2100, sx=1400 / 1568, sy=1400 / 1568, size=11, core=list(range(16)), reach=270, alpha=0.07, width=2,
         side=list(range(16)), side_k=2, side_reach=3000, side_alpha=0.13, every=0,
         hx=c_hub_x, hy=c_hub_y, hs=c_hub_size, ht=c_hub_tone, chain=c_chain, apart=c_apart,
         groups=[(c_light, 1.2), (c_mid, 2.6), (c_deep, 4), (c_pink, -1.2), (c_salmon, -2), (c_red, -3)]),
    dict(x0=2200, y0=2000, sx=1396 / 1568, sy=1100 / 1568, size=16, core=list(range(14)), reach=400, alpha=0.07, width=3,
         side=list(range(15)), side_k=2, side_reach=3000, side_alpha=0.13, every=7,
         hx=d_hub_x, hy=d_hub_y, hs=d_hub_size, ht=d_hub_tone, chain=[], apart=[],
         groups=[(d_light, 1.1), (d_mid, 2.2), (d_deep, 3.8), (d_pink, -1.2), (d_salmon, -2), (d_red, -3), (d_darkred, -4)]),
]

fig = go.Figure()
node_traces = []


def add_edges(x, y, targets, tx, ty, color, width):
    if not targets:
        return
    ex, ey = [], []
    for t in targets:
        ex += [x, tx[t], None]
        ey += [y, ty[t], None]
    fig.add_trace(go.Scatter(x=ex, y=ey, mode="lines", hoverinfo="skip", showlegend=False,
                             line=dict(color=color, width=width)))


for p in panels:
    to_x = lambda v: p["x0"] + v * p["sx"]
    to_y = lambda v: p["y0"] + v * p["sy"]
    hub_x = [to_x(v) for v in p["hx"]]
    hub_y = [to_y(v) for v in p["hy"]]
    apart = set(p["apart"])
    core_color = f"rgba(204,204,204,{p['alpha']})"
    side_color = f"rgba(204,204,204,{p['side_alpha']})"

    xs, ys, tones, free = [], [], [], []
    for pts, tone in p["groups"]:
        for px, py in pts:
            xs.append(to_x(px))
            ys.append(to_y(py))
            tones.append(tone)
            free.append((px, py) not in apart)

    # middle of the crowd: the core hubs taken together
    cx = sum(hub_x[c] for c in p["core"]) / len(p["core"])
    cy = sum(hub_y[c] for c in p["core"]) / len(p["core"])

    # spokes, one trace per node so that the grey builds up where they meet
    for n, (nx, ny, linked) in enumerate(zip(xs + hub_x, ys + hub_y, free + [True] * len(hub_x))):
        if not linked:
            continue
        dist = [math.hypot(nx - hx, ny - hy) for hx, hy in zip(hub_x, hub_y)]
        core_links = set()
        if math.hypot(nx - cx, ny - cy) < p["reach"]:
            core_links.update(c for c in p["core"] if dist[c] > 0)
        near = sorted((i for i in p["side"] if dist[i] > 0), key=lambda i: dist[i])
        side_links = set(i for i in near[:p["side_k"]] if dist[i] < p["side_reach"])
        if p["every"] and n % p["every"] == 0:
            side_links.add(len(hub_x) - 1)
        if not core_links and not side_links:
            side_links.add(min((i for i in range(len(hub_x)) if dist[i] > 0), key=lambda i: dist[i]))
        add_edges(nx, ny, core_links, hub_x, hub_y, core_color, p["width"])
        add_edges(nx, ny, side_links, hub_x, hub_y, side_color, p["width"])

    for (ax, ay), (bx, by) in p["chain"]:
        fig.add_trace(go.Scatter(x=[to_x(ax), to_x(bx)], y=[to_y(ay), to_y(by)], mode="lines", hoverinfo="skip",
                                 showlegend=False, line=dict(color=side_color, width=p["width"])))

    # hubs go under the small nodes
    node_traces.append(go.Scatter(
        x=hub_x + xs, y=hub_y + ys, mode="markers", hoverinfo="skip", showlegend=False,
        marker=dict(size=p["hs"] + [p["size"]] * len(xs), color=p["ht"] + tones,
                    colorscale=tone_scale, cmin=-4, cmax=5, line=dict(width=0), opacity=1),
    ))

for t in node_traces:
    fig.add_trace(t)

for text, lx, ly in zip(labels, label_x, label_y):
    fig.add_annotation(x=lx, y=ly, text=text, showarrow=False, xanchor="center", yanchor="middle",
                       font=dict(family="Liberation Serif", size=66, color="#222222"))

fig.update_layout(
    width=3596, height=3500, margin=dict(l=0, r=0, t=0, b=0),
    paper_bgcolor="white", plot_bgcolor="white",
    xaxis=dict(range=[0, 3596], visible=False, fixedrange=True),
    yaxis=dict(range=[3500, 0], visible=False, fixedrange=True),
)
fig.write_html("out.html", config={"displayModeBar": False}, post_script="document.body.style.margin='0';")
